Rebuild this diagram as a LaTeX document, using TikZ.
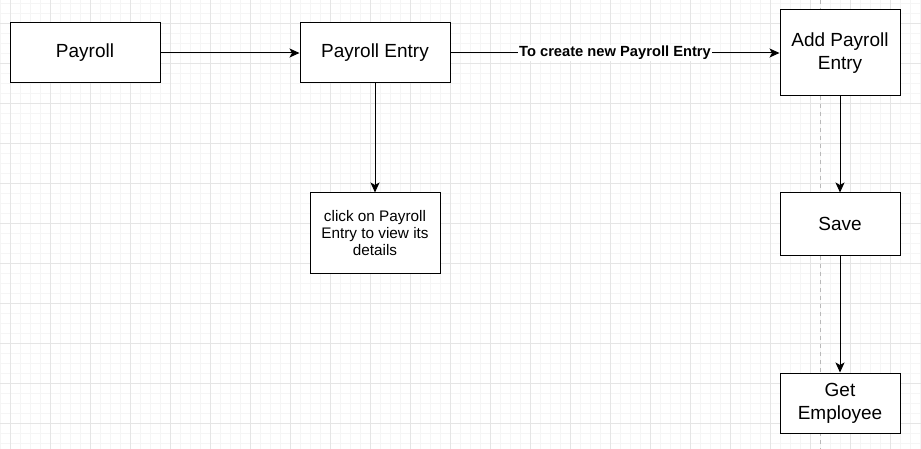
\documentclass[tikz,border=0pt]{standalone}
\usepackage{fontspec}
\setmainfont{Liberation Sans}
\usepackage{tikz}
\usetikzlibrary{arrows.meta, positioning}

\begin{document}
\begin{tikzpicture}[
      x=1pt, y=-1pt,
      box/.style={draw, line width=1pt, fill=white, inner sep=0pt,
                  align=center, font=\fontsize{19}{23}\selectfont},
      note/.style={box, font=\fontsize{15.3}{17}\selectfont},
      flow/.style={-{Stealth[length=10pt, width=9pt, inset=2.5pt]}, line width=1pt},
      edgelabel/.style={fill=white, inner sep=1pt,
                        font=\fontsize{14.7}{17}\selectfont\bfseries},
      gridminor/.style={gray!8, line width=0.8pt},
      gridmajor/.style={gray!20, line width=0.8pt},
    ]
    \useasboundingbox (0,0) rectangle (921,449);
    % background grid: minor every 10px, major every 40px
    \foreach \x in {0,10,...,920} \draw[gridminor] (\x,0) -- (\x,449);
    \foreach \y in {3,13,...,443} \draw[gridminor] (0,\y) -- (921,\y);
    \foreach \x in {10,50,...,890} \draw[gridmajor] (\x,0) -- (\x,449);
    \foreach \y in {23,63,...,423} \draw[gridmajor] (0,\y) -- (921,\y);
    % page break line
    \draw[gray!55, line width=0.8pt, dash pattern=on 4pt off 4pt] (820,0) -- (820,449);

    % boxes
    \node[box, minimum width=150, minimum height=60] (payroll) at (85,53) {Payroll};
    \node[box, minimum width=150, minimum height=60] (entry) at (375,53) {Payroll Entry};
    \node[box, minimum width=120, minimum height=86] (addentry) at (840,53) {Add Payroll\\Entry};
    \node[note, minimum width=130, minimum height=80] (details) at (375,233)
      {click on Payroll\\Entry to view its\\details};
    \node[box, minimum width=120, minimum height=62] (save) at (840,224) {Save};
    \node[box, minimum width=120, minimum height=60] (getemp) at (840,403) {Get\\Employee};

    % connectors
    \draw[flow] (payroll) -- (entry);
    \draw[flow] (entry) -- node[edgelabel] {To create new Payroll Entry} (addentry);
    \draw[flow] (entry) -- (details);
    \draw[flow] (addentry) -- (save);
    \draw[flow] (save) -- (getemp);
  \end{tikzpicture}
\end{document}
